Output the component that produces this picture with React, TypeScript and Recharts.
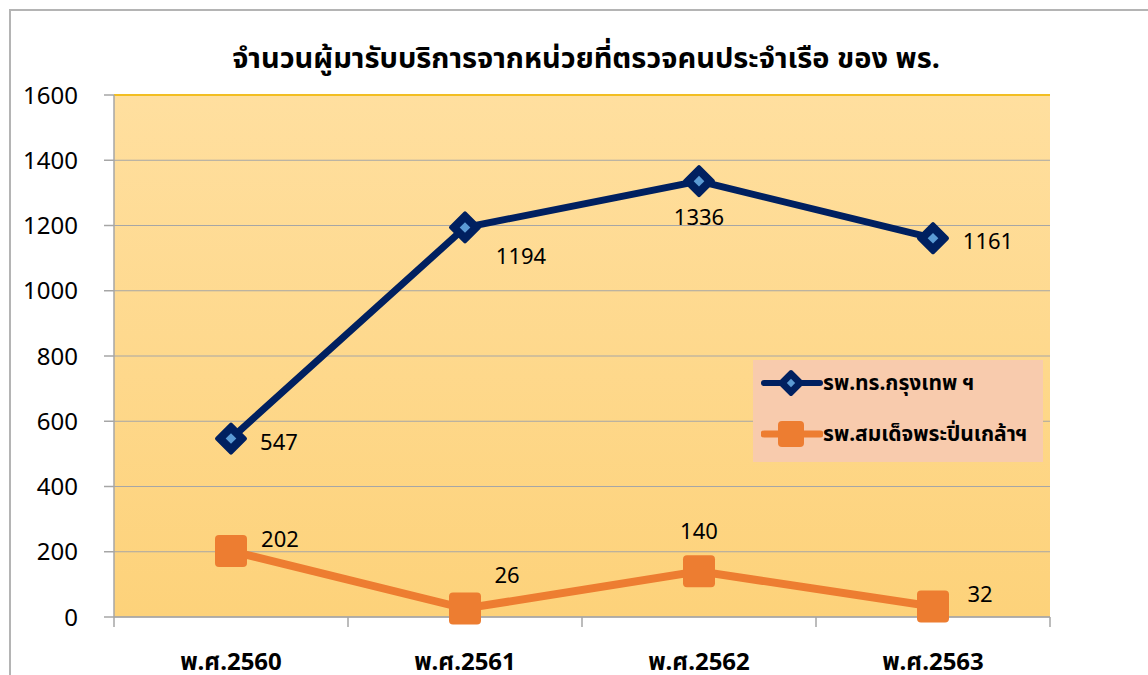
import React from 'react';
import { LineChart, Line, XAxis, YAxis, CartesianGrid, ReferenceLine, LabelList } from 'recharts';

const chartTitle = 'จำนวนผู้มารับบริการจากหน่วยที่ตรวจคนประจำเรือ ของ พร.';
const categories = ['พ.ศ.2560', 'พ.ศ.2561', 'พ.ศ.2562', 'พ.ศ.2563'];
const bangkokName = 'รพ.ทร.กรุงเทพ ฯ';
const pinklaoName = 'รพ.สมเด็จพระปิ่นเกล้าฯ';
const bangkokValues = [547, 1194, 1336, 1161];
const pinklaoValues = [202, 26, 140, 32];
const yTicks = [0, 200, 400, 600, 800, 1000, 1200, 1400, 1600];

// label offsets (layout only)
const bangkokLabelOffsets = [[48, 2], [56, 28], [0, 35], [55, 2]];
const pinklaoLabelOffsets = [[49, -13], [42, -35], [0, -41], [47, -14]];

const data = categories.map((c, i) => ({
  cat: c,
  bangkok: bangkokValues[i],
  pinklao: pinklaoValues[i],
}));

const NAVY = '#002060';
const LIGHTBLUE = '#5B9BD5';
const ORANGE = '#ED7D31';
const GRID = '#A6A6A6';
const FONT = '"Noto Sans", "Noto Sans Thai", "Liberation Sans", sans-serif';

const Diamond = ({ cx, cy, r }: { cx: number; cy: number; r: number }) => (
  <g>
    <path
      d={`M${cx},${cy - r} L${cx + r},${cy} L${cx},${cy + r} L${cx - r},${cy} Z`}
      fill={NAVY}
      stroke={NAVY}
      strokeWidth={4}
      strokeLinejoin="round"
    />
    <path
      d={`M${cx},${cy - r * 0.38} L${cx + r * 0.38},${cy} L${cx},${cy + r * 0.38} L${cx - r * 0.38},${cy} Z`}
      fill={LIGHTBLUE}
    />
  </g>
);

const Square = ({ cx, cy, s }: { cx: number; cy: number; s: number }) => (
  <rect x={cx - s / 2} y={cy - s / 2} width={s} height={s} rx={4} ry={4} fill={ORANGE} />
);

const bangkokDot = (props: any) => {
  const { cx, cy, index } = props;
  if (cx == null || cy == null) return <g key={`bd${index}`} />;
  return <g key={`bd${index}`}><Diamond cx={cx} cy={cy} r={14} /></g>;
};

const pinklaoDot = (props: any) => {
  const { cx, cy, index } = props;
  if (cx == null || cy == null) return <g key={`pd${index}`} />;
  return <g key={`pd${index}`}><Square cx={cx} cy={cy} s={32} /></g>;
};

const makeLabel = (offsets: number[][]) => (props: any) => {
  const { x, y, value, index } = props;
  const o = offsets[index] || [0, 0];
  return (
    <text
      x={x + o[0]}
      y={y + o[1]}
      textAnchor="middle"
      dominantBaseline="central"
      fontSize={22}
      fontFamily={FONT}
      fill="#000"
    >
      {value}
    </text>
  );
};

const CatTick = (props: any) => {
  const { x, y, payload, index, width, visibleTicksCount } = props;
  const n = visibleTicksCount || categories.length;
  const band = (width || 0) / n;
  return (
    <g>
      <line x1={x - band / 2} x2={x - band / 2} y1={y} y2={y + 10} stroke={GRID} strokeWidth={1.5} />
      {index === n - 1 ? (
        <line x1={x + band / 2} x2={x + band / 2} y1={y} y2={y + 10} stroke={GRID} strokeWidth={1.5} />
      ) : null}
      <text
        x={x}
        y={y + 43}
        textAnchor="middle"
        dominantBaseline="central"
        fontSize={24}
        fontWeight="bold"
        fontFamily={FONT}
        fill="#000"
      >
        {payload.value}
      </text>
    </g>
  );
};

export default function App() {
  return (
    <div
      style={{
        position: 'fixed',
        left: 0,
        top: 0,
        width: 1148,
        height: 675,
        overflow: 'hidden',
        background: '#fff',
      }}
    >
      <div
        style={{
          position: 'absolute',
          left: 9,
          top: 9,
          width: 1300,
          height: 800,
          border: '2px solid #B4B4B4',
        }}
      />
      <div
        style={{
          position: 'absolute',
          left: 0,
          width: 1172,
          top: 37,
          textAlign: 'center',
          fontFamily: FONT,
          fontWeight: 'bold',
          fontSize: 29,
          lineHeight: '40px',
          color: '#000',
        }}
      >
        {chartTitle}
      </div>
      <div style={{ position: 'absolute', left: 0, top: 0 }}>
        <LineChart
          width={1148}
          height={675}
          data={data}
          margin={{ top: 95, right: 98, left: 54, bottom: 0 }}
        >
          <defs>
            <linearGradient id="plotBg" x1="0" y1="0" x2="0" y2="1">
              <stop offset="0%" stopColor="#FFDF9F" />
              <stop offset="100%" stopColor="#FDD27A" />
            </linearGradient>
          </defs>
          <CartesianGrid
            vertical={false}
            stroke={GRID}
            strokeWidth={1}
            fill="url(#plotBg)"
            fillOpacity={1}
          />
          <XAxis
            dataKey="cat"
            scale="band"
            height={58}
            tickSize={0}
            tickMargin={0}
            tickLine={false}
            axisLine={{ stroke: GRID, strokeWidth: 1.5 }}
            tick={<CatTick />}
            interval={0}
          />
          <YAxis
            domain={[0, 1600]}
            ticks={yTicks}
            width={60}
            tickSize={10}
            tickMargin={26}
            tickLine={{ stroke: GRID, strokeWidth: 1.5 }}
            axisLine={{ stroke: GRID, strokeWidth: 1.5 }}
            tick={{ fontSize: 24, fontFamily: FONT, fill: '#000' }}
          />
          <YAxis
            yAxisId="border"
            orientation="right"
            domain={[0, 1600]}
            width={0}
            tick={false}
            tickLine={false}
            axisLine={{ stroke: '#F2BE22', strokeWidth: 2 }}
          />
          <ReferenceLine y={1600} stroke="#F2BE22" strokeWidth={2} />
          <Line
            dataKey="bangkok"
            stroke={NAVY}
            strokeWidth={7}
            dot={bangkokDot}
            activeDot={false}
            isAnimationActive={false}
          >
            <LabelList dataKey="bangkok" content={makeLabel(bangkokLabelOffsets)} />
          </Line>
          <Line
            dataKey="pinklao"
            stroke={ORANGE}
            strokeWidth={8}
            dot={pinklaoDot}
            activeDot={false}
            isAnimationActive={false}
          >
            <LabelList dataKey="pinklao" content={makeLabel(pinklaoLabelOffsets)} />
          </Line>
        </LineChart>
      </div>
      <div
        style={{
          position: 'absolute',
          left: 753,
          top: 360,
          width: 290,
          height: 102,
          background: '#F8CBAD',
          fontFamily: FONT,
          fontWeight: 'bold',
          fontSize: 21,
          color: '#000',
        }}
      >
        <div style={{ position: 'absolute', left: 8, top: 8, height: 30, display: 'flex', alignItems: 'center' }}>
          <svg width={62} height={30}>
            <line x1={3} y1={15} x2={59} y2={15} stroke={NAVY} strokeWidth={6} strokeLinecap="round" />
            <Diamond cx={30} cy={15} r={11} />
          </svg>
          <span>{bangkokName}</span>
        </div>
        <div style={{ position: 'absolute', left: 8, top: 59, height: 30, display: 'flex', alignItems: 'center' }}>
          <svg width={62} height={30}>
            <line x1={3} y1={15} x2={59} y2={15} stroke={ORANGE} strokeWidth={7} strokeLinecap="round" />
            <Square cx={30} cy={15} s={26} />
          </svg>
          <span>{pinklaoName}</span>
        </div>
      </div>
    </div>
  );
}
